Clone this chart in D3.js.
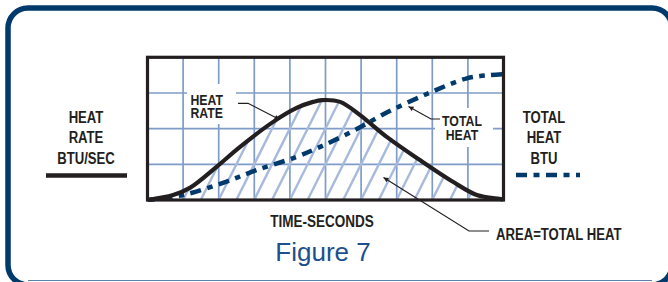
<!DOCTYPE html>
<html>
<head>
<meta charset="utf-8">
<script src="https://cdn.jsdelivr.net/npm/d3@7"></script>
<style>
  html, body { margin: 0; padding: 0; background: #fff; overflow: hidden; }
  .lbl { font-family: "Liberation Sans", Arial, sans-serif; font-weight: bold; fill: #231f20; }
</style>
</head>
<body>
<div id="chart"></div>
<script>
var width = 668;
var height = 282;

// heat rate curve (time in grid columns, rate in grid rows)
var rateTime = [0, 0.72, 1.19, 1.94, 2.6, 3.53, 4.19, 4.65, 4.9, 5.41, 5.97, 6.72, 7.65, 8.58, 9.25, 9.95, 10];
var heatRate = [0, 0.14, 0.34, 0.93, 1.49, 2.19, 2.58, 2.75, 2.8, 2.75, 2.38, 1.77, 1.12, 0.51, 0.14, 0.02, 0];

// total heat curve
var heatTime = [0, 1, 2.12, 3.07, 4.19, 4.85, 5.77, 6.72, 7.96, 8.97, 9.6, 10];
var totalHeat = [0, 0.14, 0.48, 0.84, 1.21, 1.49, 1.93, 2.45, 3.02, 3.41, 3.5, 3.53];

var xTicks = d3.range(0, 11);   // 10 columns
var yTicks = d3.range(0, 5);    // 4 rows

var navy = "#003a6c";
var gridColor = "#7f9cc9";
var hatchColor = "#a7badc";

var svg = d3.select("#chart")
  .append("svg")
    .attr("width", width)
    .attr("height", height);

var defs = svg.append("defs");

defs.append("marker")
    .attr("id", "arrow")
    .attr("viewBox", "0 0 10 10")
    .attr("refX", 10)
    .attr("refY", 5)
    .attr("markerWidth", 7)
    .attr("markerHeight", 5)
    .attr("markerUnits", "userSpaceOnUse")
    .attr("orient", "auto")
  .append("path")
    .attr("d", "M0,0L10,5L0,10z")
    .attr("fill", "#231f20");

// outer rounded frame
svg.append("rect")
    .attr("x", 8)
    .attr("y", 8)
    .attr("width", 664)
    .attr("height", 277)
    .attr("rx", 20)
    .attr("fill", "none")
    .attr("stroke", navy)
    .attr("stroke-width", 5.5);

svg.append("line")
    .attr("x1", 28).attr("x2", 652)
    .attr("y1", 280.5).attr("y2", 280.5)
    .attr("stroke", "#5d81ad")
    .attr("stroke-width", 1);

var x = d3.scaleLinear().domain([0, 10]).range([147.5, 503.5]);
var y = d3.scaleLinear().domain([0, 4]).range([200, 57.3]);

var points = function(ts, vs) {
  return ts.map(function(t, i) { return [t, vs[i]]; });
};
var ratePts = points(rateTime, heatRate);
var heatPts = points(heatTime, totalHeat);

var line = d3.line()
    .x(function(d) { return x(d[0]); })
    .y(function(d) { return y(d[1]); })
    .curve(d3.curveCatmullRom.alpha(0.5));

var area = d3.area()
    .x(function(d) { return x(d[0]); })
    .y0(y(0))
    .y1(function(d) { return y(d[1]); })
    .curve(d3.curveCatmullRom.alpha(0.5));

// grid
var g = svg.append("g");
g.selectAll(".vgrid")
  .data(xTicks.slice(1, -1))
  .join("line")
    .attr("x1", function(d) { return x(d); })
    .attr("x2", function(d) { return x(d); })
    .attr("y1", y(4))
    .attr("y2", y(0))
    .attr("stroke", gridColor)
    .attr("stroke-width", 1.7);
g.selectAll(".hgrid")
  .data(yTicks.slice(1, -1))
  .join("line")
    .attr("x1", x(0))
    .attr("x2", x(10))
    .attr("y1", function(d) { return y(d); })
    .attr("y2", function(d) { return y(d); })
    .attr("stroke", gridColor)
    .attr("stroke-width", 1.7);

// hatch under heat rate
defs.append("clipPath")
    .attr("id", "under")
  .append("path")
    .attr("d", area(ratePts));

var step = (x(1) - x(0)) / 2;
var rise = y(0) - y(4);
var hatchStarts = d3.range(x(0) - rise / 2, x(10) + step, step);
g.append("g")
    .attr("clip-path", "url(#under)")
  .selectAll("line")
  .data(hatchStarts)
  .join("line")
    .attr("x1", function(d) { return d; })
    .attr("y1", y(0))
    .attr("x2", function(d) { return d + rise / 2; })
    .attr("y2", y(4))
    .attr("stroke", hatchColor)
    .attr("stroke-width", 2.4);

// label knockouts
g.append("rect")
    .attr("x", 187).attr("y", 84).attr("width", 49).attr("height", 40)
    .attr("fill", "#fff");
g.append("rect")
    .attr("x", 435).attr("y", 108).attr("width", 58).attr("height", 39)
    .attr("fill", "#fff");

// total heat (dash-dot)
g.append("path")
    .attr("d", line(heatPts))
    .attr("fill", "none")
    .attr("stroke", navy)
    .attr("stroke-width", 4.5)
    .attr("stroke-dasharray", "11,6.5,5.5,6.5")
    .attr("stroke-dashoffset", -14);

// heat rate
g.append("path")
    .attr("d", line(ratePts))
    .attr("fill", "none")
    .attr("stroke", "#231f20")
    .attr("stroke-width", 4.2)
    .attr("stroke-linejoin", "round");

// plot border
g.append("rect")
    .attr("x", x(0))
    .attr("y", y(4))
    .attr("width", x(10) - x(0))
    .attr("height", y(0) - y(4))
    .attr("fill", "none")
    .attr("stroke", "#231f20")
    .attr("stroke-width", 3.2);

// condensed label helper
function label(lines, lx, ly, dy, size, anchor) {
  var t = svg.append("text")
      .attr("class", "lbl")
      .attr("font-size", size)
      .attr("text-anchor", anchor)
      .attr("transform", "translate(" + lx + "," + ly + ") scale(0.82,1)");
  lines.forEach(function(s, i) {
    t.append("tspan").attr("x", 0).attr("y", i * dy).text(s);
  });
}

// inner labels and leaders
label(["HEAT", "RATE"], 190.5, 104.5, 14, 15, "start");
label(["TOTAL", "HEAT"], 462, 126, 14.5, 15, "middle");

var leaders = [
  [[238, 103.3], [248, 103.3], [279.5, 119.5]],
  [[440, 119], [431, 119], [408.5, 106.5]],
  [[489, 231], [469, 231], [383.5, 177.5]]
];
svg.selectAll(".leader")
  .data(leaders)
  .join("path")
    .attr("class", "leader")
    .attr("d", d3.line())
    .attr("fill", "none")
    .attr("stroke", "#231f20")
    .attr("stroke-width", 1.2)
    .attr("marker-end", "url(#arrow)");

// side legends
label(["HEAT", "RATE", "BTU/SEC"], 86, 123.3, 20.2, 16, "middle");
label(["TOTAL", "HEAT", "BTU"], 544, 123.3, 20.2, 16, "middle");

svg.append("line")
    .attr("x1", 46).attr("x2", 127)
    .attr("y1", 175.5).attr("y2", 175.5)
    .attr("stroke", "#231f20")
    .attr("stroke-width", 4.5);

svg.append("line")
    .attr("x1", 516).attr("x2", 580)
    .attr("y1", 175).attr("y2", 175)
    .attr("stroke", navy)
    .attr("stroke-width", 4.7)
    .attr("stroke-dasharray", "11,6.5,6,6.5");

label(["TIME-SECONDS"], 322, 227, 0, 16.5, "middle");
label(["AREA=TOTAL HEAT"], 496, 240, 0, 16, "start");

svg.append("text")
    .attr("font-family", "'Liberation Sans', Arial, sans-serif")
    .attr("font-size", 26)
    .attr("fill", "#1b4f8e")
    .attr("text-anchor", "middle")
    .attr("x", 323)
    .attr("y", 260.5)
    .text("Figure 7");
</script>
</body>
</html>
